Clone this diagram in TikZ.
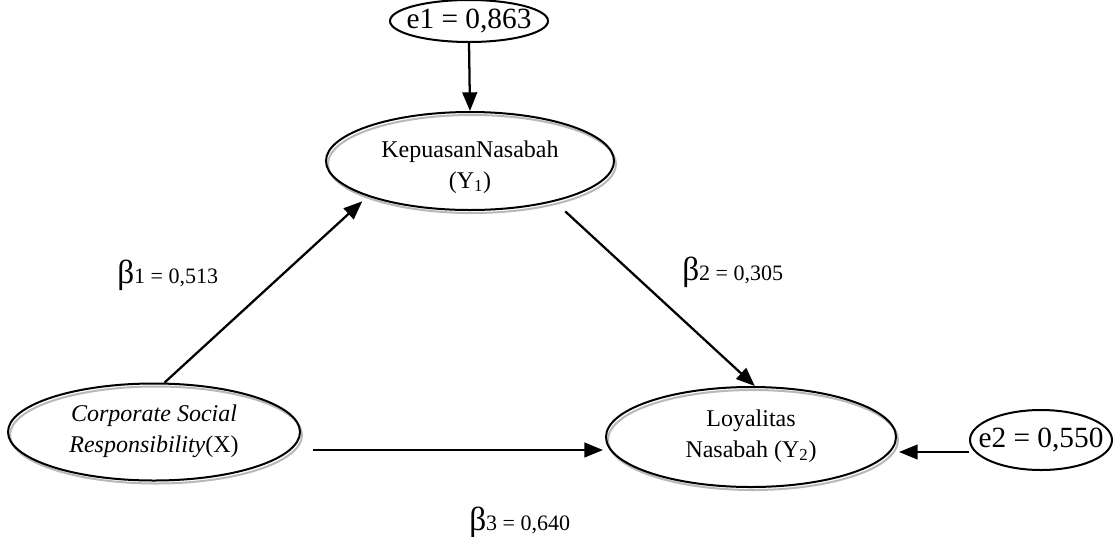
\documentclass[tikz,border=0pt]{standalone}
\usepackage{fontspec}
\setmainfont{Liberation Serif}
\usetikzlibrary{shapes.geometric,arrows.meta,calc}
\begin{document}
\begin{tikzpicture}[x=0.75pt,y=-0.75pt,
  ell/.style={ellipse,draw,line width=1.5pt,inner sep=0pt},
  shade/.style={ellipse,draw=black!28,line width=1.5pt,inner sep=0pt},
  arr/.style={line width=1.7pt,-{Triangle[length=14pt,width=11pt]}},
  ntext/.style={font=\fontsize{18}{23.5}\selectfont,align=center,inner sep=0pt},
  etext/.style={font=\fontsize{22}{24}\selectfont,inner sep=0pt},
  blabel/.style={inner sep=0pt,anchor=base west},
]
\useasboundingbox (0,0) rectangle (1120,536);
% shadows
\node[shade,minimum width=288*0.75pt,minimum height=98*0.75pt] at (472,164) {};
\node[shade,minimum width=292*0.75pt,minimum height=97*0.75pt] at (156,435) {};
\node[shade,minimum width=290*0.75pt,minimum height=100*0.75pt] at (753,440) {};
% nodes
\node[ell,minimum width=158*0.75pt,minimum height=42*0.75pt] (e1) at (469,21) {};
\node[etext] (e1t) at (e1.center) {e1 = 0,863};
\node[ell,minimum width=288*0.75pt,minimum height=98*0.75pt] (kep) at (470,161) {};
\node[ntext] (kept) at ($(kep.center)+(0,6)$) {KepuasanNasabah\\(Y\textsubscript{1})};
\node[ell,minimum width=292*0.75pt,minimum height=97*0.75pt] (csr) at (154,432) {};
\node[ntext] (csrt) at ($(csr.center)+(0,-1)$) {\textit{Corporate Social}\\\textit{Responsibility}(X)};
\node[ell,minimum width=290*0.75pt,minimum height=100*0.75pt] (loy) at (751,437) {};
\node[ntext] (loyt) at ($(loy.center)+(0,-1)$) {Loyalitas\\Nasabah (Y\textsubscript{2})};
\node[ell,minimum width=142*0.75pt,minimum height=60*0.75pt] (e2) at (1041,440) {};
\node[etext] (e2t) at (e2.center) {e2 = 0,550};
% connectors
\draw[arr] (e1.south) -- (kep.north);
\draw[arr] (csr.78) -- ($(kep.200)+(-8,4)$);
\draw[arr] ($(kep.-27)+(14,9)$) -- ($(loy.88)+(2,0)$);
\draw[arr] ($(csr.east)+(12,18)$) -- ($(loy.west)+(-2,13)$);
\draw[arr] ($(e2.west)+(0,12)$) -- ($(loy.east)+(2,15)$);
% labels
\node[blabel] (b1) at (117,283) {{\fontsize{25}{25}\selectfont β}{\fontsize{16.5}{16.5}\selectfont 1 = 0,513}};
\node[blabel] (b2) at (682,280) {{\fontsize{25}{25}\selectfont β}{\fontsize{16.5}{16.5}\selectfont 2 = 0,305}};
\node[blabel] (b3) at (469,530) {{\fontsize{25}{25}\selectfont β}{\fontsize{16.5}{16.5}\selectfont 3 = 0,640}};
\end{tikzpicture}
\end{document}
